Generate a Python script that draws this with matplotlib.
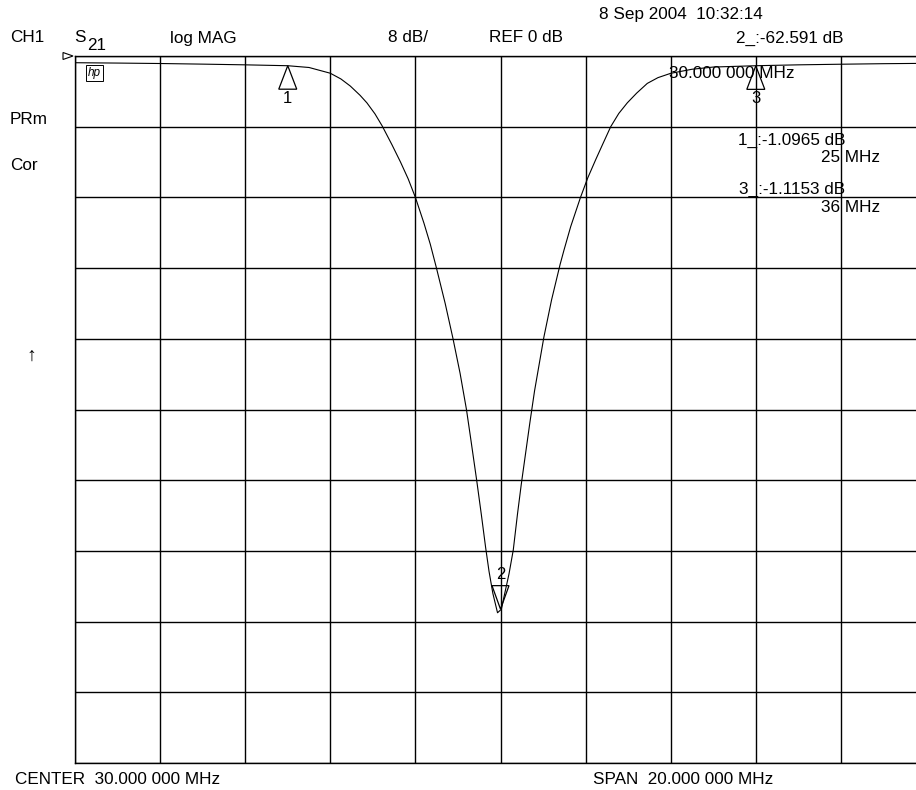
import matplotlib
matplotlib.use("Agg")
import matplotlib.pyplot as plt
from matplotlib.patches import Polygon
from matplotlib.transforms import ScaledTranslation

plt.rcParams['font.family'] = ['Liberation Sans', 'DejaVu Sans']

# ---- data ----
trace_freq_mhz = [20.0, 21.0, 22.0, 23.0, 24.0, 25.0, 25.5, 26.0, 26.25, 26.47,
                  26.7, 26.86, 27.05, 27.22, 27.45, 27.65, 27.83, 28.0, 28.2, 28.35,
                  28.49, 28.7, 28.88, 29.05, 29.2, 29.3, 29.44, 29.55, 29.65, 29.73,
                  29.82, 29.93, 30.02, 30.1, 30.2, 30.3, 30.4, 30.49, 30.6, 30.69,
                  30.8, 31.02, 31.2, 31.4, 31.49, 31.65, 31.88, 32.05, 32.24, 32.4,
                  32.59, 32.78, 32.98, 33.2, 33.45, 33.7, 34.0, 34.5, 35.0, 36.0,
                  37.0, 38.0, 39.0, 40.0]
trace_db = [-0.76, -0.80, -0.85, -0.92, -1.00, -1.10, -1.30, -1.95, -2.6, -3.4,
            -4.45, -5.3, -6.55, -7.92, -10.05, -12.0, -13.9, -16.0, -18.9, -21.3,
            -23.9, -28.0, -31.9, -35.9, -40.0, -43.3, -48.0, -51.9, -55.6, -58.3,
            -60.8, -63.0, -62.6, -60.8, -58.6, -55.9, -51.8, -48.4, -44.6, -41.5,
            -37.9, -31.8, -27.6, -23.6, -22.0, -19.3, -16.0, -13.8, -11.7, -10.0,
            -8.0, -6.5, -5.3, -4.2, -3.1, -2.45, -1.96, -1.5, -1.25, -1.1,
            -1.0, -0.93, -0.87, -0.83]

marker_ids = ["1", "2", "3"]
marker_freq = [25.0, 30.0, 36.0]
marker_db = [-1.0965, -62.591, -1.1153]
marker_up = [True, False, True]

center_mhz = 30.0
span_mhz = 20.0
scale_db = 8.0
ref_db = 0.0
n_xdiv = 10
n_ydiv = 10

W, H = 916, 790
fig = plt.figure(figsize=(W / 100, H / 100), dpi=100)
fig.patch.set_facecolor("white")

# axes in pixel geometry (right edge extends past the image, as in the reference)
left_px, right_px, top_px, bot_px = 75, 926, 56, 763
ax = fig.add_axes([left_px / W, 1 - bot_px / H, (right_px - left_px) / W,
                   (bot_px - top_px) / H])
x0 = center_mhz - span_mhz / 2
x1 = center_mhz + span_mhz / 2
y1 = ref_db
y0 = ref_db - scale_db * n_ydiv
ax.set_xlim(x0, x1)
ax.set_ylim(y0, y1)
ax.set_xticks([x0 + i * span_mhz / n_xdiv for i in range(n_xdiv + 1)])
ax.set_yticks([y0 + i * scale_db for i in range(n_ydiv + 1)])
ax.tick_params(length=0, labelbottom=False, labelleft=False)
ax.grid(True, color="black", linewidth=1.0)
for sp in ax.spines.values():
    sp.set_linewidth(1.0)
    sp.set_color("black")

ax.plot(trace_freq_mhz, trace_db, color="black", linewidth=0.8, zorder=3)

# markers
for mid, mf, md, up in zip(marker_ids, marker_freq, marker_db, marker_up):
    tr = fig.dpi_scale_trans + ScaledTranslation(mf, md, ax.transData)
    if up:
        verts = [(0, 0), (-0.09, -0.235), (0.09, -0.235)]
        ty = -0.33
    else:
        verts = [(0, 0), (-0.085, 0.235), (0.085, 0.235)]
        ty = 0.35
    ax.add_patch(Polygon(verts, closed=True, fill=False, edgecolor="black",
                         linewidth=0.9, transform=tr, zorder=4, clip_on=False))
    ax.text(0, ty, mid, transform=tr, ha="center", va="center", fontsize=12,
            zorder=5)


def T(x, y, s, ha="left", size=12.3, **kw):
    fig.text(x / W, 1 - y / H, s, ha=ha, va="center", fontsize=size,
             color="black", **kw)


T(10, 38, "CH1")
T(74, 38, "S")
T(87, 45, "21")
T(170, 38, "log MAG")
T(388, 38, "8 dB/")
T(489, 38, "REF 0 dB")
T(599, 14, "8 Sep 2004  10:32:14")
T(844, 38, "2_:-62.591 dB", ha="right")
T(669, 74, "30.000 000 MHz")
T(845, 140, "1_:-1.0965 dB", ha="right")
T(880, 157, "25 MHz", ha="right")
T(845, 189, "3_:-1.1153 dB", ha="right")
T(880, 207, "36 MHz", ha="right")
T(10, 120, "PRm")
T(10, 166, "Cor")
T(26, 356, "↑", size=14)
T(15, 779, "CENTER  30.000 000 MHz")
T(593, 779, "SPAN  20.000 000 MHz")

# reference position arrow at left of top line
fig.patches.append(Polygon([(63 / W, 1 - 52.5 / H), (63 / W, 1 - 59.5 / H),
                            (73 / W, 1 - 56 / H)], closed=True, fill=False,
                           edgecolor="black", linewidth=0.8,
                           transform=fig.transFigure))

# hp logo
T(88, 73, "hp", size=8.5, style="italic",
  bbox=dict(boxstyle="square,pad=0.15", fill=False, linewidth=0.7))

fig.savefig("out.png", dpi=100, facecolor="white")
